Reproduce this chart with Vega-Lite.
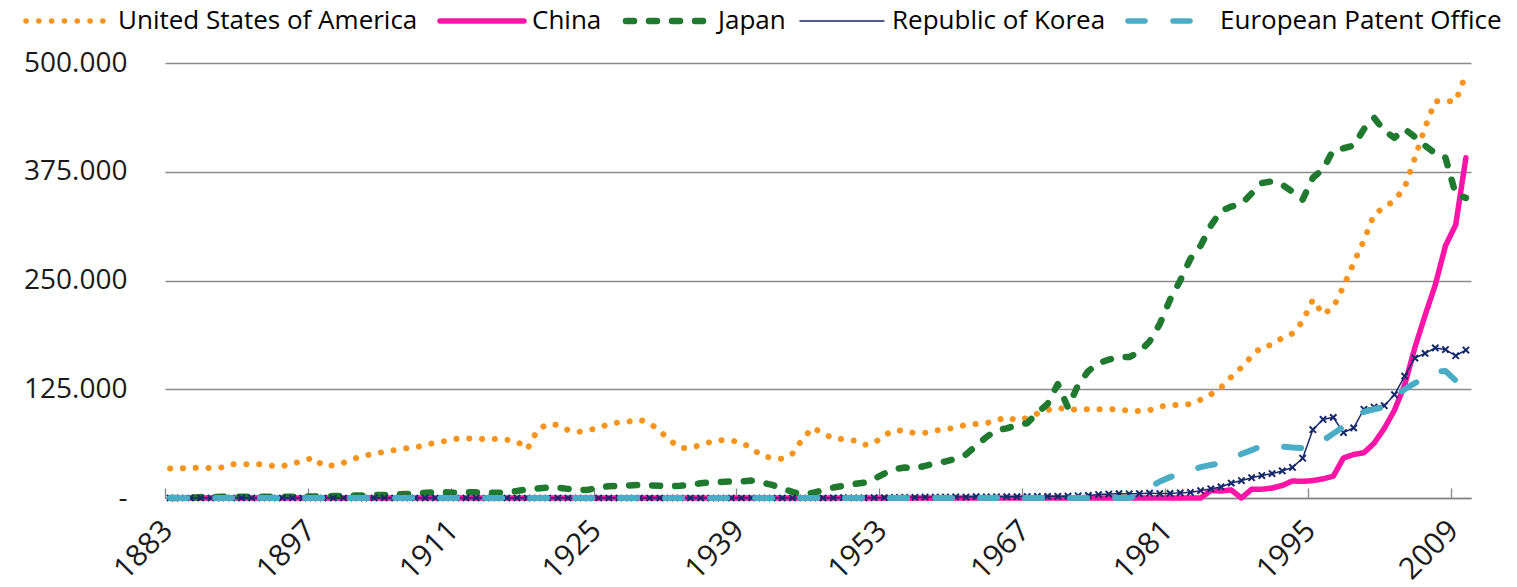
{
 "$schema": "https://vega.github.io/schema/vega-lite/v6.json",
 "width": 1306,
 "height": 435,
 "autosize": {"type": "none"},
 "padding": {"left": 165, "top": 63, "right": 46, "bottom": 89},
 "background": "white",
 "config": {"view": {"stroke": null}, "font": "Open Sans"},
 "data": {"values": [
  {"year":1883,"US":34000,"CN":0,"JP":0,"KR":0,"EP":0},
  {"year":1884,"US":34000,"CN":0,"JP":0,"KR":0,"EP":0},
  {"year":1885,"US":34500,"CN":0,"JP":400,"KR":0,"EP":0},
  {"year":1886,"US":35000,"CN":0,"JP":1000,"KR":0,"EP":0},
  {"year":1887,"US":34500,"CN":0,"JP":1200,"KR":0,"EP":0},
  {"year":1888,"US":35000,"CN":0,"JP":1300,"KR":0,"EP":0},
  {"year":1889,"US":38800,"CN":0,"JP":1400,"KR":0,"EP":0},
  {"year":1890,"US":39000,"CN":0,"JP":1500,"KR":0,"EP":0},
  {"year":1891,"US":38800,"CN":0,"JP":1400,"KR":0,"EP":0},
  {"year":1892,"US":38800,"CN":0,"JP":1300,"KR":0,"EP":0},
  {"year":1893,"US":37000,"CN":0,"JP":1300,"KR":0,"EP":0},
  {"year":1894,"US":36500,"CN":0,"JP":1400,"KR":0,"EP":0},
  {"year":1895,"US":40000,"CN":0,"JP":1500,"KR":0,"EP":0},
  {"year":1896,"US":42000,"CN":0,"JP":1600,"KR":0,"EP":0},
  {"year":1897,"US":46500,"CN":0,"JP":1800,"KR":0,"EP":0},
  {"year":1898,"US":37000,"CN":0,"JP":2000,"KR":0,"EP":0},
  {"year":1899,"US":37500,"CN":0,"JP":2200,"KR":0,"EP":0},
  {"year":1900,"US":40500,"CN":0,"JP":2500,"KR":0,"EP":0},
  {"year":1901,"US":45000,"CN":0,"JP":2800,"KR":0,"EP":0},
  {"year":1902,"US":48500,"CN":0,"JP":3000,"KR":0,"EP":0},
  {"year":1903,"US":51000,"CN":0,"JP":3300,"KR":0,"EP":0},
  {"year":1904,"US":53000,"CN":0,"JP":3500,"KR":0,"EP":0},
  {"year":1905,"US":55000,"CN":0,"JP":4000,"KR":0,"EP":0},
  {"year":1906,"US":57000,"CN":0,"JP":4500,"KR":0,"EP":0},
  {"year":1907,"US":58000,"CN":0,"JP":5000,"KR":0,"EP":0},
  {"year":1908,"US":61000,"CN":0,"JP":6000,"KR":0,"EP":0},
  {"year":1909,"US":63500,"CN":0,"JP":6500,"KR":0,"EP":0},
  {"year":1910,"US":65500,"CN":0,"JP":6500,"KR":0,"EP":0},
  {"year":1911,"US":68000,"CN":0,"JP":6000,"KR":0,"EP":0},
  {"year":1912,"US":68500,"CN":0,"JP":6500,"KR":0,"EP":0},
  {"year":1913,"US":68500,"CN":0,"JP":6500,"KR":0,"EP":0},
  {"year":1914,"US":67500,"CN":0,"JP":6000,"KR":0,"EP":0},
  {"year":1915,"US":68000,"CN":0,"JP":6000,"KR":0,"EP":0},
  {"year":1916,"US":67000,"CN":0,"JP":6500,"KR":0,"EP":0},
  {"year":1917,"US":65000,"CN":0,"JP":8000,"KR":0,"EP":0},
  {"year":1918,"US":56000,"CN":0,"JP":10000,"KR":0,"EP":0},
  {"year":1919,"US":78000,"CN":0,"JP":11000,"KR":0,"EP":0},
  {"year":1920,"US":85000,"CN":0,"JP":12000,"KR":0,"EP":0},
  {"year":1921,"US":84000,"CN":0,"JP":12000,"KR":0,"EP":0},
  {"year":1922,"US":78000,"CN":0,"JP":10500,"KR":0,"EP":0},
  {"year":1923,"US":76000,"CN":0,"JP":9000,"KR":0,"EP":0},
  {"year":1924,"US":78000,"CN":0,"JP":9500,"KR":0,"EP":0},
  {"year":1925,"US":80500,"CN":0,"JP":12000,"KR":0,"EP":0},
  {"year":1926,"US":85000,"CN":0,"JP":13500,"KR":0,"EP":0},
  {"year":1927,"US":87000,"CN":0,"JP":14000,"KR":0,"EP":0},
  {"year":1928,"US":88000,"CN":0,"JP":14500,"KR":0,"EP":0},
  {"year":1929,"US":90000,"CN":0,"JP":15000,"KR":0,"EP":0},
  {"year":1930,"US":86000,"CN":0,"JP":14500,"KR":0,"EP":0},
  {"year":1931,"US":77000,"CN":0,"JP":14000,"KR":0,"EP":0},
  {"year":1932,"US":66000,"CN":0,"JP":13500,"KR":0,"EP":0},
  {"year":1933,"US":57500,"CN":0,"JP":14000,"KR":0,"EP":0},
  {"year":1934,"US":57500,"CN":0,"JP":15000,"KR":0,"EP":0},
  {"year":1935,"US":61000,"CN":0,"JP":17000,"KR":0,"EP":0},
  {"year":1936,"US":64500,"CN":0,"JP":18000,"KR":0,"EP":0},
  {"year":1937,"US":66500,"CN":0,"JP":18500,"KR":0,"EP":0},
  {"year":1938,"US":66000,"CN":0,"JP":19000,"KR":0,"EP":0},
  {"year":1939,"US":64000,"CN":0,"JP":19000,"KR":0,"EP":0},
  {"year":1940,"US":57000,"CN":0,"JP":20000,"KR":0,"EP":0},
  {"year":1941,"US":48500,"CN":0,"JP":18000,"KR":0,"EP":0},
  {"year":1942,"US":46000,"CN":0,"JP":15000,"KR":0,"EP":0},
  {"year":1943,"US":45000,"CN":0,"JP":11000,"KR":0,"EP":0},
  {"year":1944,"US":51000,"CN":0,"JP":7000,"KR":0,"EP":0},
  {"year":1945,"US":68000,"CN":0,"JP":4000,"KR":0,"EP":0},
  {"year":1946,"US":81000,"CN":0,"JP":6000,"KR":0,"EP":0},
  {"year":1947,"US":74000,"CN":0,"JP":9000,"KR":0,"EP":0},
  {"year":1948,"US":68500,"CN":0,"JP":12000,"KR":200,"EP":0},
  {"year":1949,"US":67500,"CN":0,"JP":14000,"KR":300,"EP":0},
  {"year":1950,"US":66000,"CN":0,"JP":16000,"KR":100,"EP":0},
  {"year":1951,"US":61000,"CN":0,"JP":17500,"KR":100,"EP":0},
  {"year":1952,"US":63000,"CN":0,"JP":22000,"KR":300,"EP":0},
  {"year":1953,"US":72000,"CN":0,"JP":28000,"KR":400,"EP":0},
  {"year":1954,"US":78000,"CN":0,"JP":33000,"KR":600,"EP":0},
  {"year":1955,"US":77000,"CN":0,"JP":35000,"KR":700,"EP":0},
  {"year":1956,"US":74500,"CN":0,"JP":34000,"KR":800,"EP":0},
  {"year":1957,"US":75000,"CN":0,"JP":37000,"KR":900,"EP":0},
  {"year":1958,"US":77500,"CN":0,"JP":40000,"KR":1000,"EP":0},
  {"year":1959,"US":79000,"CN":0,"JP":42000,"KR":1100,"EP":0},
  {"year":1960,"US":81000,"CN":0,"JP":45000,"KR":1200,"EP":0},
  {"year":1961,"US":84000,"CN":0,"JP":50000,"KR":1100,"EP":0},
  {"year":1962,"US":85000,"CN":0,"JP":60000,"KR":1600,"EP":0},
  {"year":1963,"US":86000,"CN":0,"JP":70000,"KR":1300,"EP":0},
  {"year":1964,"US":89000,"CN":0,"JP":78000,"KR":1400,"EP":0},
  {"year":1965,"US":93000,"CN":0,"JP":80000,"KR":1500,"EP":0},
  {"year":1966,"US":89000,"CN":0,"JP":84000,"KR":1600,"EP":0},
  {"year":1967,"US":92000,"CN":0,"JP":86000,"KR":1700,"EP":0},
  {"year":1968,"US":97000,"CN":0,"JP":98000,"KR":1800,"EP":0},
  {"year":1969,"US":101000,"CN":0,"JP":108000,"KR":1900,"EP":0},
  {"year":1970,"US":104000,"CN":0,"JP":131000,"KR":2000,"EP":0},
  {"year":1971,"US":101000,"CN":0,"JP":104000,"KR":2200,"EP":0},
  {"year":1972,"US":102000,"CN":0,"JP":130000,"KR":2500,"EP":0},
  {"year":1973,"US":102000,"CN":0,"JP":146000,"KR":3000,"EP":0},
  {"year":1974,"US":102000,"CN":0,"JP":155000,"KR":4000,"EP":0},
  {"year":1975,"US":102000,"CN":0,"JP":159000,"KR":4500,"EP":0},
  {"year":1976,"US":102000,"CN":0,"JP":162000,"KR":5000,"EP":0},
  {"year":1977,"US":100000,"CN":0,"JP":162000,"KR":4800,"EP":0},
  {"year":1978,"US":100000,"CN":0,"JP":168000,"KR":5000,"EP":3500},
  {"year":1979,"US":101000,"CN":0,"JP":180000,"KR":5500,"EP":12000},
  {"year":1980,"US":105000,"CN":0,"JP":200000,"KR":5100,"EP":19000},
  {"year":1981,"US":107000,"CN":0,"JP":228000,"KR":5300,"EP":24000},
  {"year":1982,"US":107000,"CN":0,"JP":250000,"KR":5900,"EP":28000},
  {"year":1983,"US":108000,"CN":0,"JP":275000,"KR":6400,"EP":32000},
  {"year":1984,"US":113000,"CN":0,"JP":290000,"KR":8400,"EP":35500},
  {"year":1985,"US":119000,"CN":8600,"JP":313000,"KR":10600,"EP":38000},
  {"year":1986,"US":127000,"CN":8000,"JP":330000,"KR":12800,"EP":40000},
  {"year":1987,"US":139000,"CN":9300,"JP":335000,"KR":17100,"EP":45000},
  {"year":1988,"US":150000,"CN":0,"JP":338000,"KR":20100,"EP":50500},
  {"year":1989,"US":163000,"CN":10100,"JP":350000,"KR":23300,"EP":55000},
  {"year":1990,"US":174000,"CN":10100,"JP":362000,"KR":25800,"EP":60000},
  {"year":1991,"US":176000,"CN":11400,"JP":364000,"KR":28100,"EP":59500},
  {"year":1992,"US":184000,"CN":14400,"JP":360000,"KR":31100,"EP":59000},
  {"year":1993,"US":189000,"CN":19600,"JP":352000,"KR":35100,"EP":58000},
  {"year":1994,"US":203000,"CN":19100,"JP":343000,"KR":45700,"EP":57500},
  {"year":1995,"US":228000,"CN":20000,"JP":368000,"KR":78500,"EP":60000},
  {"year":1996,"US":211000,"CN":22000,"JP":378000,"KR":90300,"EP":66000},
  {"year":1997,"US":219000,"CN":25000,"JP":400000,"KR":92700,"EP":74000},
  {"year":1998,"US":243000,"CN":46000,"JP":402000,"KR":75200,"EP":82000},
  {"year":1999,"US":270000,"CN":50000,"JP":405000,"KR":80600,"EP":90000},
  {"year":2000,"US":296000,"CN":52000,"JP":424000,"KR":102000,"EP":99000},
  {"year":2001,"US":326000,"CN":63000,"JP":437000,"KR":104600,"EP":102000},
  {"year":2002,"US":334000,"CN":80000,"JP":422000,"KR":106100,"EP":104500},
  {"year":2003,"US":342000,"CN":101000,"JP":414000,"KR":118700,"EP":116000},
  {"year":2004,"US":357000,"CN":130000,"JP":424000,"KR":140100,"EP":125000},
  {"year":2005,"US":391000,"CN":173000,"JP":415000,"KR":160900,"EP":132000},
  {"year":2006,"US":426000,"CN":210000,"JP":405000,"KR":166200,"EP":138000},
  {"year":2007,"US":456000,"CN":245000,"JP":396000,"KR":172500,"EP":145000},
  {"year":2008,"US":456000,"CN":290000,"JP":391000,"KR":170600,"EP":146000},
  {"year":2009,"US":456000,"CN":314000,"JP":349000,"KR":163500,"EP":135000},
  {"year":2010,"US":487000,"CN":391000,"JP":345000,"KR":170100,"EP":null}
 ]},
 "transform": [{"fold": ["US", "CN", "JP", "KR", "EP"], "as": ["series", "value"]}],
 "encoding": {
  "x": {
   "field": "year", "type": "quantitative",
   "scale": {"domain": [1882.5, 2010.5], "nice": false, "zero": false},
   "axis": {
    "title": null,
    "values": [1882.5, 1896.5, 1910.5, 1924.5, 1938.5, 1952.5, 1966.5, 1980.5, 1994.5, 2008.5],
    "labelExpr": "format(datum.value + 0.5, 'd')",
    "labelOffset": -8,
    "labelAngle": -45,
    "labelFont": "Open Sans",
    "labelFontSize": 30,
    "labelColor": "#1a1a1a",
    "labelPadding": 27,
    "tickSize": -10,
    "tickColor": "#868686",
    "tickWidth": 1.3,
    "domainColor": "#868686",
    "domainWidth": 1.5,
    "grid": false
   }
  },
  "y": {
   "field": "value", "type": "quantitative",
   "scale": {"domain": [0, 500000], "nice": false},
   "axis": {
    "title": null,
    "values": [0, 125000, 250000, 375000, 500000],
    "labelExpr": "datum.value === 0 ? '-' : replace(format(datum.value, ','), ',', '.')",
    "labelFont": "Open Sans",
    "labelFontSize": 28,
    "labelColor": "#1a1a1a",
    "labelPadding": 38,
    "ticks": false,
    "domain": false,
    "grid": true,
    "gridColor": "#8c8c8c",
    "gridWidth": 1.3
   }
  }
 },
 "layer": [
  {
   "transform": [{"filter": "datum.series === 'US'"}],
   "mark": {"type": "line", "strokeWidth": 6, "strokeCap": "round", "strokeJoin": "round"},
   "encoding": {
    "color": {
     "field": "series", "type": "nominal",
     "scale": {"domain": ["US", "CN", "JP", "KR", "EP"], "range": ["#F7941D", "#FF14A8", "#1F7A30", "#16296B", "#4BACC6"]},
     "legend": {
      "title": null,
      "orient": "none",
      "legendX": -110,
      "legendY": -55,
      "direction": "horizontal",
      "columns": 5,
      "labelExpr": "datum.label === 'US' ? 'United States of America' : datum.label === 'CN' ? 'China' : datum.label === 'JP' ? 'Japan' : datum.label === 'KR' ? 'Republic of Korea' : 'European Patent Office'",
      "labelFont": "Open Sans",
      "labelFontSize": 26,
      "labelColor": "#000000",
      "labelLimit": 500,
      "labelOffset": 37,
      "columnPadding": 11,
      "symbolType": "stroke",
      "symbolSize": 7056,
      "encode": {"symbols": {"update": {"strokeCap": {"value": "round"}, "strokeWidth": {"signal": "datum.value === 'KR' ? 1.5 : datum.value === 'JP' ? 6.5 : 5.5"}}}}
     }
    },
    "strokeDash": {
     "field": "series", "type": "nominal",
     "scale": {"domain": ["US", "CN", "JP", "KR", "EP"], "range": [[0.1, 12.7], [1, 0], [8, 15], [1, 0], [17, 28]]}
    }
   }
  },
  {
   "transform": [{"filter": "datum.series === 'CN'"}],
   "mark": {"type": "line", "strokeWidth": 5.5, "strokeCap": "round", "strokeJoin": "round"},
   "encoding": {
    "color": {"field": "series", "type": "nominal"},
    "strokeDash": {"field": "series", "type": "nominal"}
   }
  },
  {
   "transform": [{"filter": "datum.series === 'JP'"}],
   "mark": {"type": "line", "strokeWidth": 6.5, "strokeCap": "round", "strokeJoin": "round"},
   "encoding": {
    "color": {"field": "series", "type": "nominal"},
    "strokeDash": {"field": "series", "type": "nominal"}
   }
  },
  {
   "transform": [{"filter": "datum.series === 'KR'"}],
   "mark": {"type": "line", "strokeWidth": 1.5, "strokeCap": "round", "strokeJoin": "round"},
   "encoding": {
    "color": {"field": "series", "type": "nominal"},
    "strokeDash": {"field": "series", "type": "nominal"}
   }
  },
  {
   "transform": [{"filter": "datum.series === 'KR'"}],
   "mark": {"type": "point", "shape": "M-1,-1L1,1M-1,1L1,-1", "filled": false, "stroke": "#16296B", "strokeWidth": 2, "size": 40, "opacity": 1}
  },
  {
   "transform": [{"filter": "datum.series === 'EP' && isValid(datum.value)"}],
   "mark": {"type": "line", "strokeWidth": 6, "strokeCap": "round", "strokeJoin": "round"},
   "encoding": {
    "color": {"field": "series", "type": "nominal"},
    "strokeDash": {"field": "series", "type": "nominal"}
   }
  }
 ]
}
